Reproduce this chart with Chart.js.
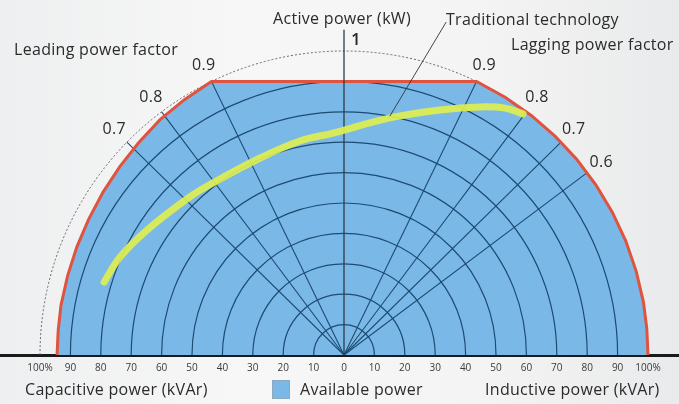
<!DOCTYPE html>
<html>
<head>
<meta charset="utf-8">
<script src="https://cdn.jsdelivr.net/npm/chart.js@4.4.1/dist/chart.umd.min.js"></script>
<style>
  html, body { margin: 0; padding: 0; }
  body {
    width: 679px; height: 404px; overflow: hidden;
    background: linear-gradient(to right, #eeeff0 0%, #f7f7f7 35%, #f4f4f4 70%, #e9eaeb 100%);
  }
</style>
</head>
<body>
<canvas id="pqChart" width="679" height="404"></canvas>
<script>
// Capability boundary: reactive power Q (neg = capacitive) and active power P, per unit
const boundaryQ = [-0.944, -0.940, -0.931, -0.909, -0.879, -0.840, -0.793, -0.738, -0.675, -0.605, -0.525, -0.436,
  0.436, 0.530, 0.616, 0.695, 0.766, 0.829, 0.883, 0.927, 0.961, 0.985, 0.996, 1.000];
const boundaryP = [0.000, 0.082, 0.164, 0.261, 0.355, 0.446, 0.535, 0.619, 0.699, 0.774, 0.840, 0.900,
  0.900, 0.848, 0.788, 0.719, 0.643, 0.559, 0.469, 0.375, 0.276, 0.174, 0.087, 0.000];

// Traditional technology curve
const traditionalQ = [-0.789, -0.737, -0.648, -0.507, -0.431, -0.276, -0.145, -0.036, 0.151, 0.316, 0.447, 0.530, 0.589];
const traditionalP = [0.240, 0.322, 0.411, 0.520, 0.566, 0.648, 0.704, 0.730, 0.780, 0.806, 0.816, 0.812, 0.793];

// grid
const gridRadii = [0.1, 0.2, 0.3, 0.4, 0.5, 0.6, 0.7, 0.8, 0.9];
const leadingPf = [0.9, 0.8, 0.7];
const laggingPf = [0.9, 0.8, 0.7, 0.6];

// x axis ticks
const tickValues = [-1, -0.9, -0.8, -0.7, -0.6, -0.5, -0.4, -0.3, -0.2, -0.1, 0, 0.1, 0.2, 0.3, 0.4, 0.5, 0.6, 0.7, 0.8, 0.9, 1];
const tickLabels = ["100%", "90", "80", "70", "60", "50", "40", "30", "20", "10", "0", "10", "20", "30", "40", "50", "60", "70", "80", "90", "100%"];

const BLUE = "#7ab9e7";
const GRID = "#1d4b74";
const FONT = '"Open Sans", sans-serif';

const toPts = (xs, ys) => xs.map((x, i) => ({ x: x, y: ys[i] }));

// origin at pixel (344, 355), 1 p.u. = 304 px
const unit = 304;
const ox = 344, oy = 355;

const pqDecor = {
  id: "pqDecor",
  afterDatasetDraw(chart, args) {
    if (args.index !== 0) return;
    const ctx = chart.ctx;
    const sx = chart.scales.x, sy = chart.scales.y;
    const cx = sx.getPixelForValue(0), cy = sy.getPixelForValue(0);
    const r = (v) => sx.getPixelForValue(v) - cx;
    ctx.save();
    // concentric circles
    ctx.strokeStyle = GRID;
    ctx.lineWidth = 1.2;
    gridRadii.forEach((rad) => {
      ctx.beginPath();
      ctx.arc(cx, cy, r(rad), Math.PI, 2 * Math.PI);
      ctx.stroke();
    });
    // power factor lines
    ctx.lineWidth = 1.1;
    const ray = (q, p) => {
      ctx.beginPath();
      ctx.moveTo(cx, cy);
      ctx.lineTo(sx.getPixelForValue(q), sy.getPixelForValue(p));
      ctx.stroke();
    };
    leadingPf.forEach((pf) => ray(-Math.sqrt(1 - pf * pf), pf));
    laggingPf.forEach((pf) => ray(Math.sqrt(1 - pf * pf), pf));
    // outer 100% arc
    ctx.strokeStyle = "#666";
    ctx.lineWidth = 1;
    ctx.setLineDash([2, 2]);
    ctx.beginPath();
    ctx.arc(cx, cy, r(1), Math.PI, 2 * Math.PI);
    ctx.stroke();
    ctx.restore();
  },
  afterDraw(chart) {
    const ctx = chart.ctx;
    const sx = chart.scales.x, sy = chart.scales.y;
    ctx.save();
    ctx.fillStyle = "#2b2b2b";
    ctx.textBaseline = "middle";
    ctx.letterSpacing = "0.3px";
    ctx.font = "16px " + FONT;

    ctx.textAlign = "center";
    ctx.fillText("Active power (kW)", 342, 19);
    ctx.textAlign = "left";
    ctx.fillText("Leading power factor", 14, 50);
    ctx.fillText("Lagging power factor", 511, 45);
    ctx.fillText("Traditional technology", 446, 20);

    ctx.font = "600 17px " + FONT;
    ctx.textAlign = "center";
    ctx.fillText("1", 356, 40);

    // power factor labels
    ctx.font = "16px " + FONT;
    const lbl = (q, p, txt) => {
      ctx.fillText(txt, sx.getPixelForValue(q * 1.058), sy.getPixelForValue(p * 1.058));
    };
    leadingPf.forEach((pf) => lbl(-Math.sqrt(1 - pf * pf), pf, pf.toFixed(1)));
    laggingPf.forEach((pf) => lbl(Math.sqrt(1 - pf * pf), pf, pf.toFixed(1)));

    // bottom captions + legend
    ctx.textAlign = "left";
    ctx.fillText("Capacitive power (kVAr)", 25, 390);
    ctx.fillText("Inductive power (kVAr)", 485, 390);
    ctx.fillText("Available power", 300, 390);
    ctx.fillStyle = BLUE;
    ctx.fillRect(272, 380, 18, 19);
    ctx.strokeStyle = "#8fa8bb";
    ctx.lineWidth = 1;
    ctx.strokeRect(272.5, 380.5, 17, 18);
    ctx.restore();
  }
};

new Chart(document.getElementById("pqChart").getContext("2d"), {
  type: "scatter",
  data: {
    datasets: [
      {
        // available power area
        data: toPts(boundaryQ, boundaryP),
        showLine: true,
        borderWidth: 0,
        borderColor: "rgba(0,0,0,0)",
        backgroundColor: BLUE,
        fill: "origin",
        order: 5,
      },
      {
        // red limit
        data: toPts(boundaryQ, boundaryP),
        showLine: true,
        borderColor: "#e0533f",
        borderWidth: 3,
        fill: false,
        order: 4,
      },
      {
        // traditional technology
        data: toPts(traditionalQ, traditionalP),
        showLine: true,
        borderColor: "rgba(222, 238, 80, 0.92)",
        borderWidth: 7,
        borderCapStyle: "round",
        tension: 0.4,
        fill: false,
        order: 2,
      },
      {
        // active power axis
        data: [{ x: 0, y: 0 }, { x: 0, y: 1.07 }],
        showLine: true,
        borderColor: "#2f3b46",
        borderWidth: 1.3,
        fill: false,
        order: 3,
      },
      {
        // leader line to caption
        data: [{ x: 0.151, y: 0.786 }, { x: 0.336, y: 1.095 }],
        showLine: true,
        borderColor: "#333",
        borderWidth: 0.9,
        fill: false,
        order: 1,
      },
    ],
  },
  options: {
    responsive: false,
    animation: false,
    devicePixelRatio: 1,
    layout: { padding: 0 },
    elements: { point: { radius: 0, hoverRadius: 0 } },
    scales: {
      x: {
        type: "linear",
        min: -ox / unit,
        max: (679 - ox) / unit,
        position: { y: 0 },
        grid: { display: false, drawTicks: false },
        border: { display: true, color: "#1a1a1a", width: 3 },
        afterBuildTicks: (scale) => {
          scale.ticks = tickValues.map((v) => ({ value: v }));
        },
        ticks: {
          autoSkip: false,
          maxRotation: 0,
          padding: 7,
          color: "#3a3a3a",
          font: { size: 10, family: FONT },
          callback: (value, index) => tickLabels[index],
        },
      },
      y: {
        type: "linear",
        display: false,
        min: -(404 - oy) / unit,
        max: oy / unit,
      },
    },
    plugins: {
      legend: { display: false },
      tooltip: { enabled: false },
    },
  },
  plugins: [pqDecor],
});
</script>
</body>
</html>
